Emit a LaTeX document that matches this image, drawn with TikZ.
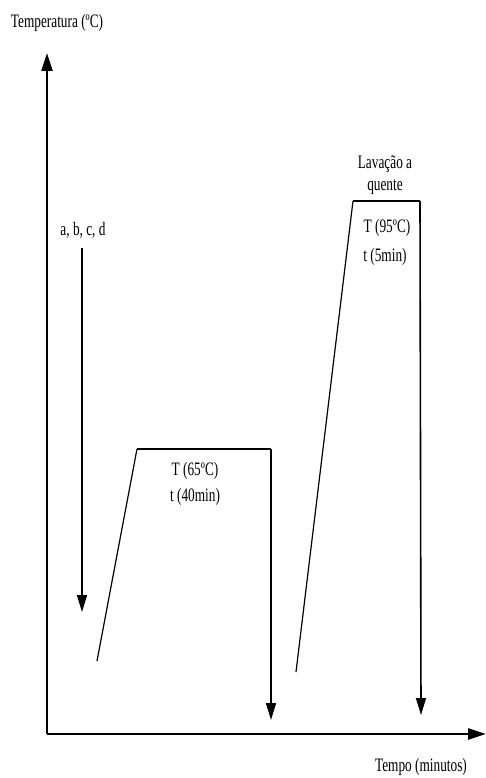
\documentclass[tikz,border=0pt]{standalone}
\usepackage{fontspec}
\setmainfont{Liberation Serif}[FakeStretch=0.7]
\usetikzlibrary{arrows.meta}
\begin{document}
\begin{tikzpicture}[x=1pt,y=-1pt,
  lbl/.style={inner sep=0pt,font=\fontsize{19}{22}\selectfont},
  axis/.style={line width=2.5pt,-{Triangle[length=18pt,width=11pt]}},
  drop/.style={line width=1.6pt,-{Triangle[length=17pt,width=10pt]}},
  ramp/.style={line width=1.2pt},
  hold/.style={line width=2.2pt}]
\useasboundingbox (0,0) rectangle (485,778);
% axes
\coordinate (O) at (47,734);
\coordinate (Ytop) at (47,53);
\coordinate (Xend) at (486,734);
\draw[axis] (O) -- (Ytop);
\draw[axis] (O) -- (Xend);
\node[lbl] (ylab) at (57,23) {Temperatura (ºC)};
\node[lbl] (xlab) at (421,767) {Tempo (minutos)};
% sample addition arrow
\node[lbl] (abcd) at (83,230) {a, b, c, d};
\coordinate (a1) at (82,248);
\coordinate (a2) at (82,612);
\draw[drop] (a1) -- (a2);
% first stage
\coordinate (r1b) at (97,661);
\coordinate (r1t) at (137,449);
\coordinate (h1e) at (271,449);
\coordinate (d1e) at (271,720);
\draw[ramp] (r1b) -- (r1t);
\draw[hold] (r1t) -- (h1e);
\draw[drop] (h1e) -- (d1e);
\node[lbl] (T1) at (195,471) {T (65ºC)};
\node[lbl] (t1) at (195,497) {t (40min)};
% second stage
\coordinate (r2b) at (296,672);
\coordinate (r2t) at (353,201);
\coordinate (h2e) at (420,201);
\coordinate (d2e) at (421,715);
\draw[ramp] (r2b) -- (r2t);
\draw[hold] (r2t) -- (h2e);
\draw[drop] (h2e) -- (d2e);
\node[lbl] (L1) at (385,164) {Lavação a};
\node[lbl] (L2) at (385,187) {quente};
\node[lbl] (T2) at (387,228) {T (95ºC)};
\node[lbl] (t2) at (385,257) {t (5min)};
\end{tikzpicture}
\end{document}
